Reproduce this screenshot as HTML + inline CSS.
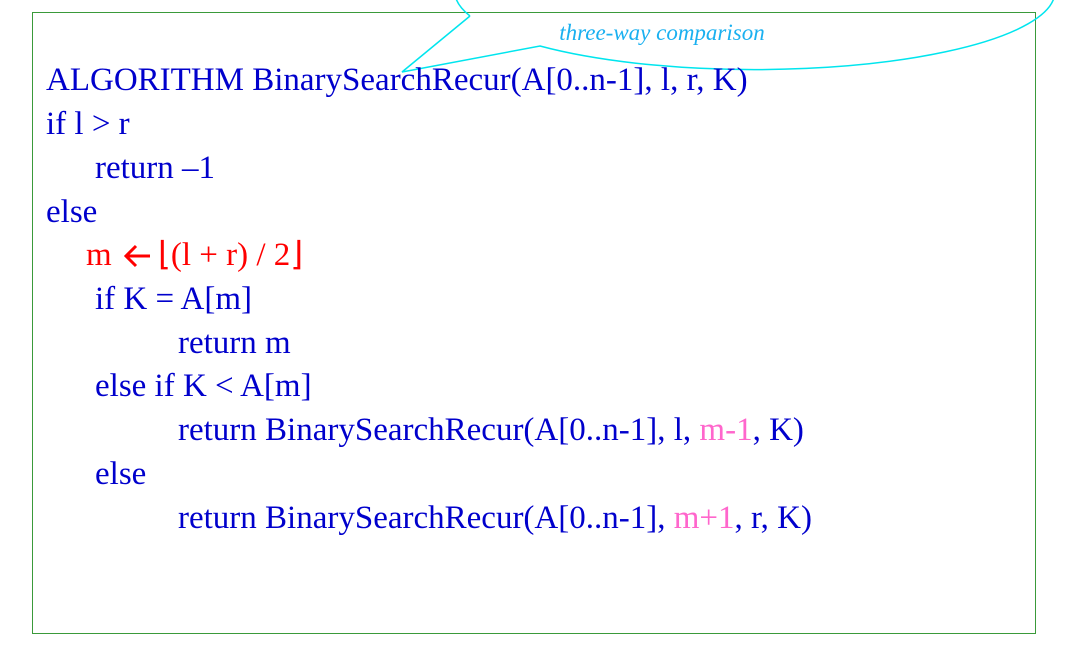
<!DOCTYPE html>
<html><head><meta charset="utf-8"><style>
body{margin:0;width:1072px;height:654px;background:#fff;position:relative;overflow:hidden;font-family:"Liberation Serif",serif;}
.box{position:absolute;left:32px;top:12px;width:1004px;height:622px;border:1.5px solid #3a9a3a;box-sizing:border-box;}
.l{position:absolute;font-size:33px;color:#0000cc;white-space:pre;line-height:1;}
.p{color:#ff66cc}
svg{position:absolute;left:0;top:0}
</style></head><body>
<div class="box"></div>
<svg width="1072" height="654">
<path d="M470,16 L402,72 L540,46 A300,78 0 1 0 470,16" fill="none" stroke="#00e5ee" stroke-width="1.5"/>
<text x="662" y="40" font-family="Liberation Serif" font-style="italic" font-size="23" fill="#1ab0f0" text-anchor="middle">three-way comparison</text>
<g stroke="#ff0000" stroke-width="3" fill="none">
<line x1="126" y1="256" x2="150" y2="256"/>
<polyline points="136,246 126,256 136,266"/>
</g>
</svg>
<div class="l" style="left:46px;top:64px">ALGORITHM BinarySearchRecur(A[0..n-1], l, r, K)</div>
<div class="l" style="left:46px;top:108px">if l &gt; r</div>
<div class="l" style="left:95px;top:152px">return –1</div>
<div class="l" style="left:46px;top:196px">else</div>
<div class="l" style="left:86px;top:239px;color:#ff0000">m</div>
<div class="l" style="left:158px;top:239px;color:#ff0000">⌊(l + r) / 2⌋</div>
<div class="l" style="left:95px;top:283px">if K = A[m]</div>
<div class="l" style="left:178px;top:327px">return m</div>
<div class="l" style="left:95px;top:370px">else if K &lt; A[m]</div>
<div class="l" style="left:178px;top:414px">return BinarySearchRecur(A[0..n-1], l, <span class="p">m-1</span>, K)</div>
<div class="l" style="left:95px;top:458px">else</div>
<div class="l" style="left:178px;top:502px">return BinarySearchRecur(A[0..n-1], <span class="p">m+1</span>, r, K)</div>
</body></html>
